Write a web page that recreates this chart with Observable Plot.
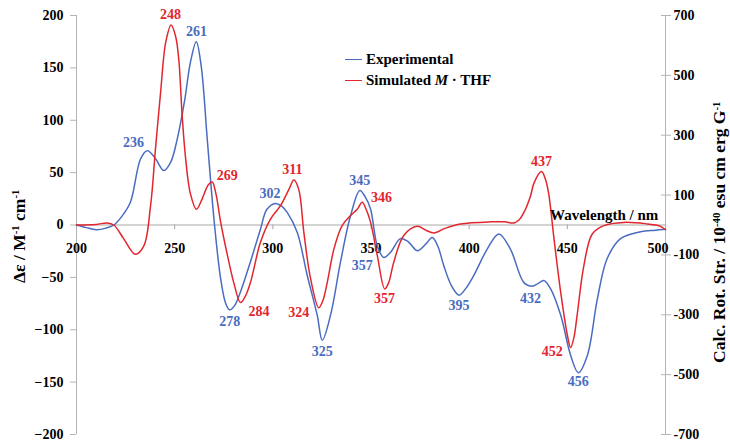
<!DOCTYPE html>
<html><head><meta charset="utf-8">
<script src="https://cdn.jsdelivr.net/npm/d3@7"></script>
<script src="https://cdn.jsdelivr.net/npm/@observablehq/plot@0.6"></script>
<style>
body{margin:0;background:#fff;}
#wrap{position:relative;width:730px;height:442px;font-family:"Liberation Serif","Times New Roman",serif;font-weight:bold;color:#000;}
.ov{position:absolute;white-space:nowrap;line-height:1;}
.ov sup{font-size:0.62em;vertical-align:0.55em;}
.sw{position:absolute;height:0;border-top:1.6px solid;}
</style></head><body><div id="wrap"></div>
<script>
// Experimental CD spectrum (Δε, left axis units)
const expWl  = [200,205,210,215,219,223,227.5,232.6,236,240,244.5,248,251.3,255,258,261,263.5,266.6,270,273.4,276,278,280.5,283.5,288.6,293.7,297,301.4,304.5,307.3,312.4,317.5,322.6,325.2,329.4,334.5,339.6,344.3,347,349.8,353.2,356.5,360,365,369,373.6,378,381.2,384,387.1,391,394.8,398.5,402.4,409.2,415.1,421,427.9,432.1,435,438,441.5,446.6,451.7,455.6,460.2,465.3,470.3,477.1,487.3,495,500];
const expVal = [0,-2.5,-4.5,-3,0,8,22,63,71,64,52,60,82,118,155,175,152,82,6,-51,-75,-81,-77,-64,-35,-4,15,20.6,18,12,-7,-48,-86,-110,-86,-35,9,33,27,15,-20,-31,-26,-13,-16,-24.5,-18,-12,-20,-39,-58,-67,-60,-48,-23,-8.6,-23,-55,-58.4,-56,-53,-61,-86,-124.5,-141,-124.5,-70.5,-32,-13,-6.4,-5,-4];
// Simulated M·THF spectrum (plotted in left axis units)
const simWl  = [200,210,215.6,219,224,230,234.3,237.7,240.2,242.8,245.5,248.2,250.5,252.1,253.8,255.5,258,261.1,264,267,269.1,271,273.4,277,280.1,283.5,286,288.6,293.7,298.8,303.9,308.2,310.7,313.2,315.8,319.2,323.4,325.5,327.7,331.1,335.3,339.6,343,345.5,347.5,349.8,353.2,357,359,361.6,366.7,373.6,378,382,388,395.6,410.9,418,422.8,425.5,427.9,431.3,433,436.8,438.8,440.5,443.2,446.6,450,451.7,453.3,455,458.4,462.7,468.6,478.8,490.7,497,500];
const simVal = [0,0.5,2,0,-13,-28,-20,18,72,126,175,191,180,158,105,65,30,15,25,38,41,30,3,-30,-55,-74,-68,-55,-16.5,5.7,18.4,34,43,34,-7,-51,-79,-72,-55,-23,-0.6,9,15,21.6,15,2.5,-29,-61,-55,-35.5,-10,-1.3,-5,-7.6,-3,1,3,3,2,5,12,28,40,51,44,30,-13,-64,-105,-117,-108,-86,-39,-8.6,-0.6,2.5,1,-1,-4.5];

const leftTicks  = [-200,-150,-100,-50,0,50,100,150,200];
const rightTicks = [-700,-500,-300,-100,100,300,500,700];
const xTicks     = [200,250,300,350,400,450,500];
const rightPerLeft = 3.5;

// peak labels: text and anchor (wavelength, value)
const expPeakText = ["236","261","278","302","325","345","357","395","432","456"];
const expPeakWl   = [229.0,261.1,278.1,298.5,325.2,344.3,345.5,394.8,431.3,455.6];
const expPeakVal  = [79,185,-92,30,-120.7,42.2,-38.8,-76.9,-70.5,-149.8];
const simPeakText = ["248","269","311","284","324","346","357","437","452"];
const simPeakWl   = [247.9,276.8,309.9,292.9,313.2,355.4,356.9,436.9,442.3];
const simPeakVal  = [201,47.6,53.3,-82.6,-83.1,26.4,-70.5,60.3,-121.2];

const BLUE = "#4a6cc0", RED = "#e2262e", GRID = "#b4b4b4";
const exp = expWl.map((w,i)=>({w, v:expVal[i]}));
const sim = simWl.map((w,i)=>({w, v:simVal[i]}));
const expPk = expPeakText.map((t,i)=>({t, w:expPeakWl[i], v:expPeakVal[i]}));
const simPk = simPeakText.map((t,i)=>({t, w:simPeakWl[i], v:simPeakVal[i]}));
const F = "Liberation Serif, Times New Roman, serif";
const xTicksMain = xTicks.slice(0, -1), xTickLast = xTicks.slice(-1);

const plot = Plot.plot({
  width:730, height:442, marginLeft:76, marginRight:65, marginTop:15, marginBottom:8,
  x:{domain:[200,500], axis:null},
  y:{domain:[-200,200], axis:null},
  style:{fontFamily:F, fontSize:"14px", fontWeight:"bold", background:"transparent", overflow:"visible"},
  marks:[
    Plot.ruleX([200],{stroke:GRID}),
    Plot.ruleX([500],{stroke:GRID}),
    Plot.ruleY([0],{stroke:"#a8a8a8"}),
    Plot.axisY(leftTicks,{anchor:"left", tickSize:6, tickPadding:7, stroke:GRID, fill:"#000", fontSize:14, fontWeight:"bold", fontFamily:F, label:null}),
    Plot.axisY(rightTicks.map(v=>v/rightPerLeft),{anchor:"right", tickSize:10, dx:-5, stroke:GRID, tickFormat:()=>"", label:null}),
    Plot.axisY(rightTicks.map(v=>v/rightPerLeft),{anchor:"right", tickSize:0, tickPadding:8, fill:"#000", fontSize:14, fontWeight:"bold", fontFamily:F, tickFormat:d=>String(Math.round(d*rightPerLeft)), label:null}),
    Plot.ruleX(xTicks,{x:d=>d, y1:0, y2:-4.5, stroke:"#a8a8a8"}),
    Plot.text(xTicksMain,{x:d=>d, y:0, dy:24, text:d=>String(d), fontSize:14, fontWeight:"bold", fontFamily:F, fill:"#000"}),
    Plot.text(xTickLast,{x:d=>d, y:0, dy:24, dx:3, textAnchor:"end", text:d=>String(d), fontSize:14, fontWeight:"bold", fontFamily:F, fill:"#000"}),
    Plot.line(exp,{x:"w", y:"v", stroke:BLUE, strokeWidth:1.5, curve:"catmull-rom"}),
    Plot.line(sim,{x:"w", y:"v", stroke:RED, strokeWidth:1.5, curve:"catmull-rom"}),
    Plot.text(expPk,{x:"w", y:"v", text:"t", fill:BLUE, fontSize:14, fontWeight:"bold", fontFamily:F}),
    Plot.text(simPk,{x:"w", y:"v", text:"t", fill:RED, fontSize:14, fontWeight:"bold", fontFamily:F})
  ]
});
const wrap = document.getElementById("wrap");
wrap.appendChild(plot);
plot.style.position="absolute"; plot.style.left="0"; plot.style.top="0";

function ov(html, css){ const d=document.createElement("div"); d.className="ov"; d.innerHTML=html; Object.assign(d.style, css); wrap.appendChild(d); return d; }
function sw(color, left, top, w){ const d=document.createElement("div"); d.className="sw"; Object.assign(d.style,{left:left+"px", top:top+"px", width:w+"px", borderTopColor:color}); wrap.appendChild(d); }

// legend
sw(BLUE, 345, 59, 17);
sw(RED, 345, 80, 17);
ov("Experimental",{left:"366px", top:"52px", fontSize:"15px"});
ov("Simulated <i>M</i> · THF",{left:"366px", top:"73px", fontSize:"15px"});
// x axis title
const xt = ov("Wavelength / nm",{top:"208px", fontSize:"15px"});
xt.style.left = (658 - xt.offsetWidth) + "px";
// left title
const lt = ov("Δε / M<sup>-1</sup> cm<sup>-1</sup>",{fontSize:"17.5px"});
lt.style.left = (19 - lt.offsetWidth/2) + "px"; lt.style.top = (236 - lt.offsetHeight/2) + "px"; lt.style.transform="rotate(-90deg)";
// right title
const rt = ov("Calc. Rot. Str. / 10<sup>-40</sup> esu cm erg G<sup>-1</sup>",{fontSize:"17.5px"});
rt.style.left = (720 - rt.offsetWidth/2) + "px"; rt.style.top = (232 - rt.offsetHeight/2) + "px"; rt.style.transform="rotate(-90deg)";
</script></body></html>
